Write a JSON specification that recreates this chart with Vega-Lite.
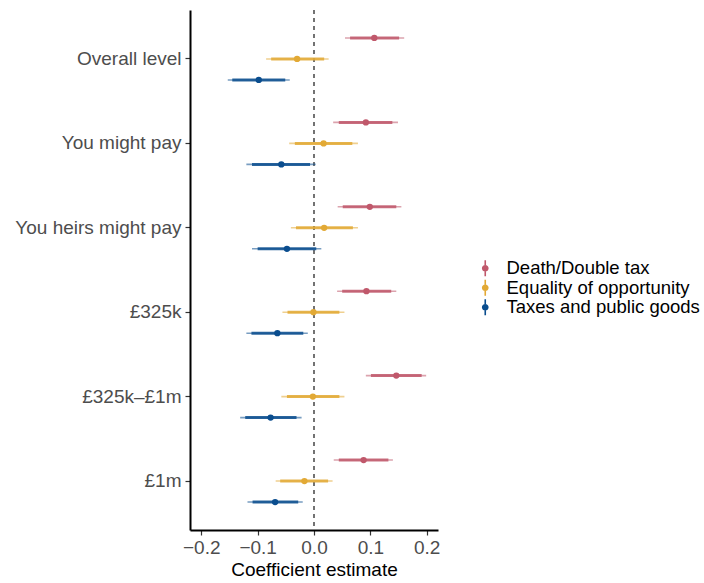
{
  "$schema": "https://vega.github.io/schema/vega-lite/v6.json",
  "width": 248,
  "height": 520,
  "autosize": "none",
  "padding": {"left": 190, "top": 10, "right": 266, "bottom": 53},
  "background": "white",
  "config": {
    "font": "Liberation Sans",
    "view": {"stroke": null},
    "axis": {"grid": false, "domainColor": "black", "domainWidth": 2, "tickColor": "#333333", "tickWidth": 1.2, "tickSize": 5, "labelColor": "#4D4D4D", "labelFontSize": 19, "titleFontWeight": "normal", "titleColor": "black"}
  },
  "datasets": {
    "est": [
      {"cat": "Overall level", "group": "Death/Double tax", "est": 0.107, "lo95": 0.055, "hi95": 0.160, "lo90": 0.064, "hi90": 0.151},
      {"cat": "Overall level", "group": "Equality of opportunity", "est": -0.030, "lo95": -0.085, "hi95": 0.026, "lo90": -0.076, "hi90": 0.018},
      {"cat": "Overall level", "group": "Taxes and public goods", "est": -0.098, "lo95": -0.153, "hi95": -0.043, "lo90": -0.145, "hi90": -0.051},
      {"cat": "You might pay", "group": "Death/Double tax", "est": 0.092, "lo95": 0.034, "hi95": 0.149, "lo90": 0.044, "hi90": 0.139},
      {"cat": "You might pay", "group": "Equality of opportunity", "est": 0.017, "lo95": -0.044, "hi95": 0.078, "lo90": -0.034, "hi90": 0.068},
      {"cat": "You might pay", "group": "Taxes and public goods", "est": -0.058, "lo95": -0.120, "hi95": 0.003, "lo90": -0.110, "hi90": -0.007},
      {"cat": "You heirs might pay", "group": "Death/Double tax", "est": 0.099, "lo95": 0.042, "hi95": 0.155, "lo90": 0.051, "hi90": 0.146},
      {"cat": "You heirs might pay", "group": "Equality of opportunity", "est": 0.018, "lo95": -0.041, "hi95": 0.078, "lo90": -0.032, "hi90": 0.069},
      {"cat": "You heirs might pay", "group": "Taxes and public goods", "est": -0.048, "lo95": -0.110, "hi95": 0.013, "lo90": -0.100, "hi90": 0.004},
      {"cat": "£325k", "group": "Death/Double tax", "est": 0.093, "lo95": 0.041, "hi95": 0.146, "lo90": 0.050, "hi90": 0.137},
      {"cat": "£325k", "group": "Equality of opportunity", "est": -0.001, "lo95": -0.056, "hi95": 0.054, "lo90": -0.047, "hi90": 0.045},
      {"cat": "£325k", "group": "Taxes and public goods", "est": -0.065, "lo95": -0.120, "hi95": -0.011, "lo90": -0.111, "hi90": -0.019},
      {"cat": "£325k–£1m", "group": "Death/Double tax", "est": 0.146, "lo95": 0.092, "hi95": 0.199, "lo90": 0.101, "hi90": 0.191},
      {"cat": "£325k–£1m", "group": "Equality of opportunity", "est": -0.002, "lo95": -0.058, "hi95": 0.054, "lo90": -0.048, "hi90": 0.045},
      {"cat": "£325k–£1m", "group": "Taxes and public goods", "est": -0.077, "lo95": -0.131, "hi95": -0.022, "lo90": -0.122, "hi90": -0.031},
      {"cat": "£1m", "group": "Death/Double tax", "est": 0.088, "lo95": 0.035, "hi95": 0.140, "lo90": 0.044, "hi90": 0.132},
      {"cat": "£1m", "group": "Equality of opportunity", "est": -0.017, "lo95": -0.068, "hi95": 0.033, "lo90": -0.060, "hi90": 0.025},
      {"cat": "£1m", "group": "Taxes and public goods", "est": -0.069, "lo95": -0.118, "hi95": -0.020, "lo90": -0.109, "hi90": -0.028}
    ],
    "zero": [{"z": 0}]
  },
  "layer": [
    {
      "data": {"name": "zero"},
      "mark": {"type": "rule", "color": "black", "strokeDash": [4, 4], "strokeWidth": 1.1},
      "encoding": {"x": {"field": "z", "type": "quantitative", "scale": {"domain": [-0.22, 0.22], "nice": false, "zero": false}}}
    },
    {
      "data": {"name": "est"},
      "mark": {"type": "rule", "strokeWidth": 1.6, "strokeOpacity": 0.55},
      "encoding": {
        "y": {"field": "cat", "type": "nominal", "sort": ["Overall level", "You might pay", "You heirs might pay", "£325k", "£325k–£1m", "£1m"]},
        "yOffset": {"field": "group", "type": "nominal", "sort": ["Death/Double tax", "Equality of opportunity", "Taxes and public goods"]},
        "x": {"field": "lo95", "type": "quantitative"},
        "x2": {"field": "hi95"},
        "color": {"field": "group", "type": "nominal"}
      }
    },
    {
      "data": {"name": "est"},
      "mark": {"type": "rule", "strokeWidth": 3, "strokeOpacity": 0.85},
      "encoding": {
        "y": {"field": "cat", "type": "nominal", "sort": ["Overall level", "You might pay", "You heirs might pay", "£325k", "£325k–£1m", "£1m"]},
        "yOffset": {"field": "group", "type": "nominal", "sort": ["Death/Double tax", "Equality of opportunity", "Taxes and public goods"]},
        "x": {"field": "lo90", "type": "quantitative"},
        "x2": {"field": "hi90"},
        "color": {"field": "group", "type": "nominal"}
      }
    },
    {
      "data": {"name": "est"},
      "mark": {"type": "point", "filled": true, "opacity": 1, "size": 40},
      "encoding": {
        "y": {
          "field": "cat", "type": "nominal",
          "sort": ["Overall level", "You might pay", "You heirs might pay", "£325k", "£325k–£1m", "£1m"],
          "scale": {"paddingInner": 0, "paddingOuter": 0.08},
          "axis": {"title": null, "labelPadding": 4}
        },
        "yOffset": {
          "field": "group", "type": "nominal",
          "sort": ["Death/Double tax", "Equality of opportunity", "Taxes and public goods"],
          "scale": {"paddingInner": 0, "paddingOuter": 0.51}
        },
        "x": {
          "field": "est", "type": "quantitative",
          "axis": {"title": "Coefficient estimate", "titleFontSize": 19, "values": [-0.2, -0.1, 0, 0.1, 0.2], "format": ".1f", "labelPadding": 3, "titlePadding": 3}
        },
        "color": {
          "field": "group", "type": "nominal",
          "scale": {"domain": ["Death/Double tax", "Equality of opportunity", "Taxes and public goods"], "range": ["#C0586B", "#E2A935", "#0A4D8E"]},
          "legend": {
            "title": null,
            "orient": "none",
            "legendX": 286,
            "legendY": 249,
            "labelFontSize": 18.5,
            "labelColor": "black",
            "labelLimit": 400,
            "symbolSize": 256,
            "symbolType": "M-0.1,-1H0.1V-0.42H-0.1Z M-0.1,0.42H0.1V1H-0.1Z M0.42,0A0.42,0.42 0 1,1 -0.42,0A0.42,0.42 0 1,1 0.42,0Z",
            "symbolStrokeWidth": 0,
            "symbolOpacity": 1,
            "rowPadding": 0.5,
            "labelOffset": 12
          }
        }
      }
    }
  ]
}
